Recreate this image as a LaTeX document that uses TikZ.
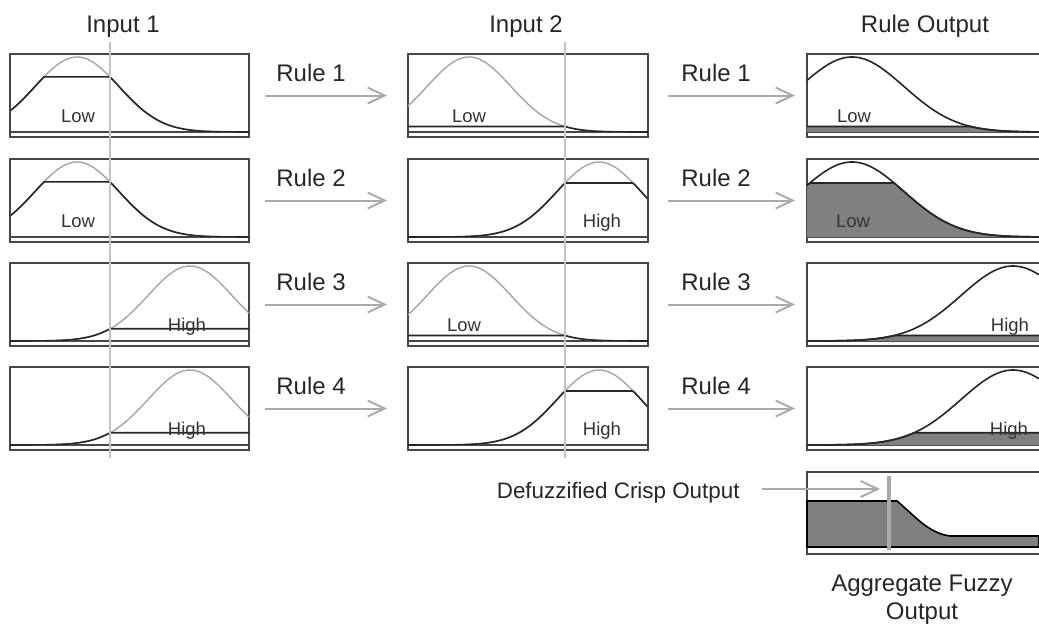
\documentclass[tikz,border=0pt]{standalone}
\usepackage{fontspec}
\setmainfont{Liberation Sans}
\usetikzlibrary{arrows.meta}
\definecolor{boxgray}{RGB}{70,70,70}
\definecolor{ghost}{RGB}{165,165,165}
\definecolor{cutgray}{RGB}{195,195,195}
\definecolor{arrgray}{RGB}{170,170,170}
\definecolor{fillgray}{RGB}{128,128,128}
\tikzset{
  panel/.style={draw=boxgray,line width=1pt,inner sep=0pt,outer sep=0pt,anchor=north west,minimum height=41.5pt},
  ghostcurve/.style={draw=ghost,line width=0.7pt},
  memcurve/.style={draw=black!85,line width=0.8pt},
  rulearrow/.style={draw=arrgray,line width=1pt,-{Straight Barb[length=8.5pt,width=8pt]}},
  head/.style={font=\fontsize{12}{14}\selectfont,text=black!85,inner sep=0pt},
  setlbl/.style={font=\fontsize{9.25}{11}\selectfont,text=black!80,inner sep=0pt,anchor=base},
  declare function={g(\u,\m,\w)=75*exp(-0.5*((\u-\m)/\w)*((\u-\m)/\w));}
}
\begin{document}
\begin{tikzpicture}[x=0.5pt,y=-0.5pt]
\useasboundingbox (0,0) rectangle (1039,628);
\clip (0,0) rectangle (1039,628);
\node[head,anchor=base] (hin1) at (123,32) {Input 1};
\node[head,anchor=base] (hin2) at (526,32) {Input 2};
\node[head,anchor=base] (hout) at (925,32) {Rule Output};
\foreach \r/\t/\ca/\cb/\cc/\la/\lb/\lc/\xa/\xb/\xc in {
  1/54/77/469/852/Low/Low/Low/78/469/854,
  2/159/77/599/852/Low/High/Low/78/602/853,
  3/263/190/469/1013/High/Low/High/187/464/1010,
  4/367/190/599/1013/High/High/High/187/602/1009} {
  \pgfmathsetmacro\bl{\t+78}
  \pgfmathsetmacro\ha{g(110,\ca,42)}
  \pgfmathsetmacro\hb{g(565,\cb,42)}
  \pgfmathsetmacro\hc{min(\ha,\hb)}
  \node[panel,minimum width=119.5pt] (in1r\r) at (10,\t) {};
  \node[panel,minimum width=120pt] (in2r\r) at (408,\t) {};
  \node[panel,minimum width=125pt] (outr\r) at (807,\t) {};
  \draw[boxgray,line width=0.8pt] (10,\bl) -- (249,\bl) (408,\bl) -- (648,\bl) (807,\bl) -- (1039,\bl);
  \draw[ghostcurve] plot[domain=10:249,samples=120] (\x,{\bl-g(\x,\ca,42)});
  \draw[memcurve] plot[domain=10:249,samples=120] (\x,{\bl-min(\ha,g(\x,\ca,42))});
  \draw[ghostcurve] plot[domain=408:648,samples=120] (\x,{\bl-g(\x,\cb,42)});
  \draw[memcurve] plot[domain=408:648,samples=120] (\x,{\bl-min(\hb,g(\x,\cb,42))});
  \fill[fillgray] (807,\bl) -- plot[domain=807:1039,samples=120] (\x,{\bl-min(\hc,g(\x,\cc,52))}) -- (1039,\bl) -- cycle;
  \draw[memcurve] plot[domain=807:1039,samples=120] (\x,{\bl-min(\hc,g(\x,\cc,52))});
  \draw[memcurve] plot[domain=807:1039,samples=120] (\x,{\bl-g(\x,\cc,52)});
  \node[setlbl] (la\r) at (\xa,\t+68) {\la};
  \node[setlbl] (lb\r) at (\xb,\t+68) {\lb};
  \node[setlbl] (lc\r) at (\xc,\t+68) {\lc};
  \node[head,anchor=base west] (ra\r) at (276,\t+27) {Rule \r};
  \node[head,anchor=base west] (rb\r) at (681,\t+27) {Rule \r};
  \draw[rulearrow,shorten <=8pt,shorten >=10.5pt] (in1r\r.east) -- (in2r\r.west);
  \draw[rulearrow,shorten <=10pt,shorten >=6pt] (in2r\r.east) -- (outr\r.west);
}
\coordinate (cuta) at (110,42);
\coordinate (cutb) at (110,458);
\coordinate (cutc) at (565,42);
\coordinate (cutd) at (565,458);
\draw[cutgray,line width=1pt] (cuta) -- (cutb) (cutc) -- (cutd);
\node[panel,minimum width=125pt,minimum height=41pt] (agg) at (807,472) {};
\fill[fillgray,draw=black,line width=0.8pt] (807,547) -- (807,501) -- (897,501)
  .. controls (915,516) and (928,533) .. (950,536) -- (1039,536) -- (1039,547) -- cycle;
\coordinate (bartop) at (889,476);
\coordinate (barbot) at (889,550);
\coordinate (crisp) at (889,489);
\draw[arrgray,line width=2.2pt] (bartop) -- (barbot);
\node[head,font=\fontsize{11.2}{14}\selectfont,anchor=base east] (dfz) at (740,498) {Defuzzified Crisp Output};
\draw[rulearrow,shorten <=11pt,shorten >=4.5pt] (dfz.east |- crisp) -- (crisp);
\node[head,align=center,anchor=north] (aggtxt) at (922,575) {Aggregate Fuzzy\\Output};
\end{tikzpicture}
\end{document}
